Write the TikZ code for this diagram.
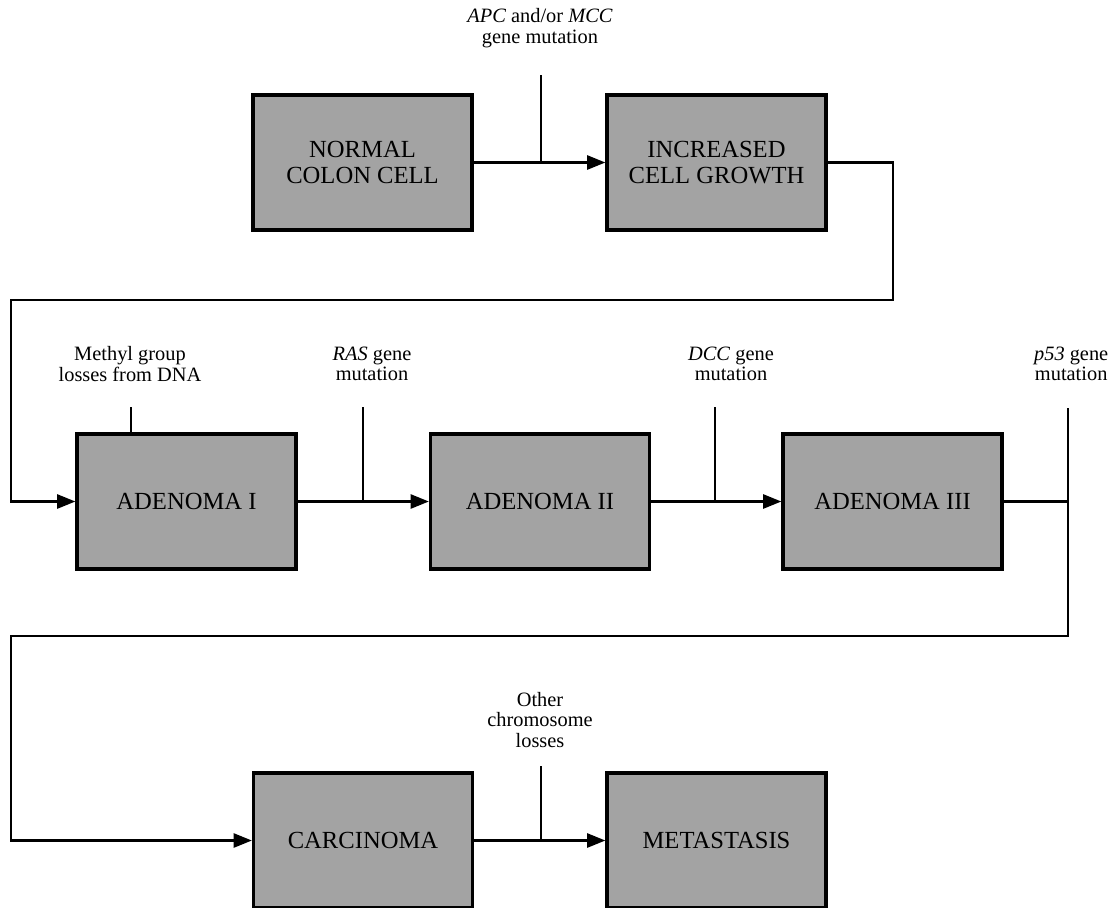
\documentclass[tikz,border=0pt]{standalone}
\usepackage{fontspec}
\setmainfont{Liberation Serif}
\usetikzlibrary{arrows.meta}
\definecolor{dotgray}{gray}{0.64}
\begin{document}
\begin{tikzpicture}[>={Triangle[length=13pt,width=10pt]}, line join=miter,
	box/.style={draw, line width=2.3pt, fill=dotgray, minimum width=5.475cm, minimum height=3.375cm, align=center, font=\fontsize{17.5}{19}\selectfont},
	lbl/.style={align=center, inner sep=0pt, font=\fontsize{14.5}{14.5}\selectfont},
	link/.style={line width=1.8pt}]
	\useasboundingbox (0,0) rectangle (27.875,-22.675);
	% stages
	\node[box] (normal) at (9.0625,-4.0625) {NORMAL\\COLON CELL};
	\node[box] (growth) at (17.9125,-4.0625) {INCREASED\\CELL GROWTH};
	\node[box] (ad1) at (4.6625,-12.5375) {ADENOMA I};
	\node[box] (ad2) at (13.5,-12.5375) {ADENOMA II};
	\node[box] (ad3) at (22.3125,-12.5375) {ADENOMA III};
	\node[box] (carc) at (9.075,-21.0125) {CARCINOMA};
	\node[box] (meta) at (17.9125,-21.0125) {METASTASIS};
	% events
	\node[lbl] (apcl) at (13.5,-0.7) {\textit{APC} and/or \textit{MCC}\\gene mutation};
	\node[lbl] (methl) at (3.25,-9.1) {Methyl group\\losses from DNA};
	\node[lbl] (rasl) at (9.3,-9.1) {\textit{RAS} gene\\mutation};
	\node[lbl] (dccl) at (18.275,-9.1) {\textit{DCC} gene\\mutation};
	\node[lbl] (p53l) at (26.78,-9.1) {\textit{p53} gene\\mutation};
	\node[lbl] (othl) at (13.5,-18.0) {Other\\chromosome\\losses};
	\coordinate (apc) at (13.525,-1.875);
	\coordinate (meth) at (3.275,-10.175);
	\coordinate (ras) at (9.075,-10.175);
	\coordinate (dcc) at (17.875,-10.175);
	\coordinate (p53) at (26.7,-10.2);
	\coordinate (oth) at (13.525,-19.15);
	\coordinate (r1) at (22.325,-7.5);
	\coordinate (l1) at (0.275,-7.5);
	\coordinate (r2) at (26.7,-15.9);
	\coordinate (l2) at (0.275,-15.9);
	% flow
	\draw[link,->] (normal) -- (growth);
	\draw[link] (apc) -- (apc |- normal.east);
	\draw[link,->] (growth.east) -| (r1) -- (l1) |- (ad1.west);
	\draw[link] (meth) -- (meth |- ad1.north);
	\draw[link,->] (ad1) -- (ad2);
	\draw[link] (ras) -- (ras |- ad1.east);
	\draw[link,->] (ad2) -- (ad3);
	\draw[link] (dcc) -- (dcc |- ad2.east);
	\draw[link] (ad3.east) -- (p53 |- ad3.east);
	\draw[link,->] (p53) -- (r2) -- (l2) |- (carc.west);
	\draw[link,->] (carc) -- (meta);
	\draw[link] (oth) -- (oth |- carc.east);
\end{tikzpicture}
\end{document}
